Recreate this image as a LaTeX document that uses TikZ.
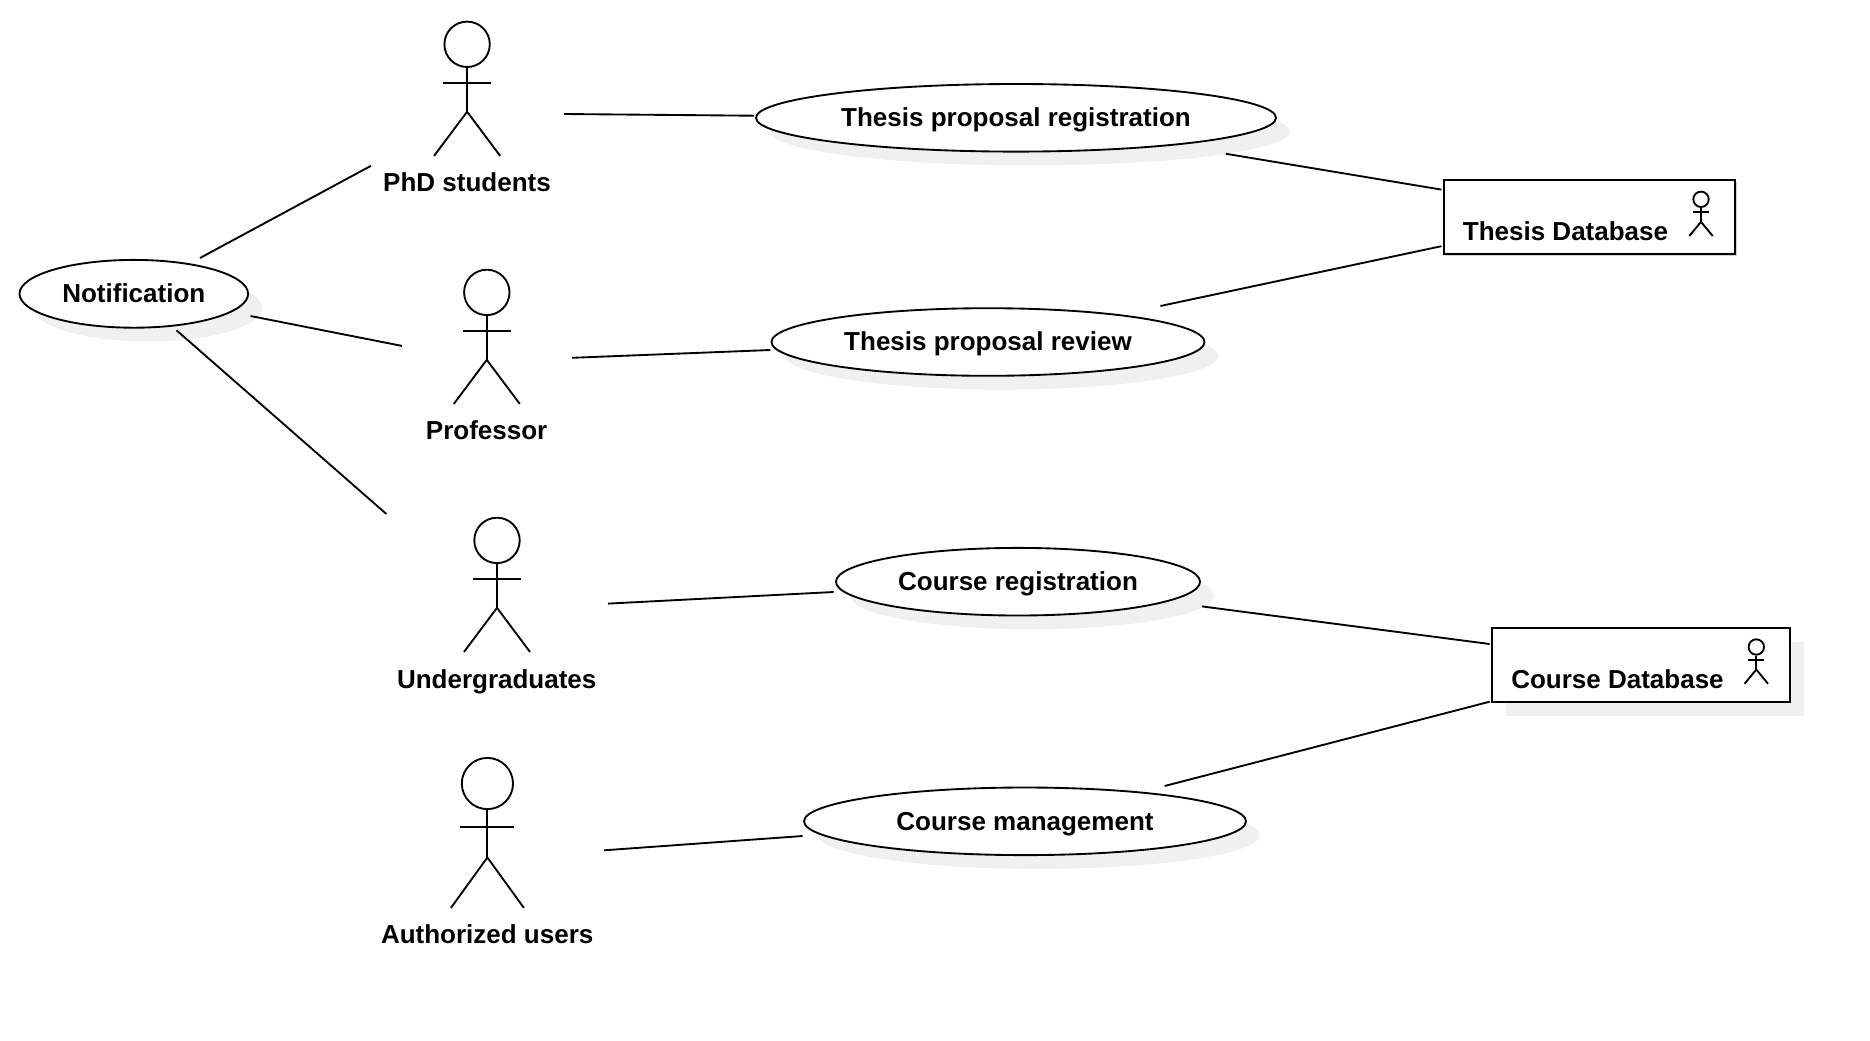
\documentclass[tikz,border=0pt]{standalone}
\usepackage{fontspec}
\setmainfont{Liberation Sans}
\definecolor{shadowc}{HTML}{F0F0F0}
\tikzset{
  x=0.75pt,y=-0.75pt,
  line width=1.4pt,
  line/.style={draw=black,line width=1.4pt},
  lbl/.style={font=\fontsize{19.5}{24}\selectfont\bfseries,text=black,inner sep=0pt},
  ucase/.style={ellipse,draw=black,fill=white,line width=1.4pt,inner sep=0pt},
  dbbox/.style={rectangle,draw=black,fill=white,line width=1.4pt,inner sep=0pt},
}
\usetikzlibrary{shapes.geometric}
% name, head x, head y, r, arm dy, arm half, hip dy, foot dy, foot half
\newcommand{\actorfig}[9]{%
  \node[circle,draw=black,line width=1.4pt,inner sep=0pt,minimum size={2*#4*0.75pt}] (#1) at (#2,#3) {};
  \draw[line] (#1.south) -- ++(0,#7-#4) coordinate (#1hip);
  \draw[line] ([shift={(-#6,#5)}]#1.center) -- ([shift={(#6,#5)}]#1.center);
  \draw[line] ([shift={(-#9,#8-#7)}]#1hip) -- (#1hip) -- ([shift={(#9,#8-#7)}]#1hip);
}
% name, cx, cy, rx, ry, text, text dy
\newcommand{\usecase}[7]{%
  \fill[shadowc] (#2+14,#3+13.8) ellipse [x radius=#4,y radius=#5];
  \node[ucase,minimum width={2*#4*0.75pt},minimum height={2*#5*0.75pt}] (#1) at (#2,#3) {};
  \node[lbl] (#1t) at (#2,#3+#7) {#6};
}
\begin{document}
\begin{tikzpicture}
\useasboundingbox (0,0) rectangle (1870,1040);
% use cases
\usecase{notif}{133.8}{293.8}{114.3}{33.9}{Notification}{-0.6}
\usecase{ereg}{1016}{117.8}{260}{33.8}{Thesis proposal registration}{2.4}
\usecase{erev}{988}{342}{216.5}{33.8}{Thesis proposal review}{1.4}
\usecase{creg}{1018}{581.7}{182}{33.8}{Course registration}{2.4}
\usecase{cman}{1025}{821.3}{221}{33.8}{Course management}{2.8}
% actors
\actorfig{phd}{467.1}{44.3}{22.7}{39}{24}{66.5}{110.6}{33}
\node[lbl] (phdl) at (467,182) {PhD students};
\actorfig{prof}{486.8}{292.4}{22.7}{39}{24}{66.5}{110.6}{33}
\node[lbl] (profl) at (486.6,430) {Professor};
\actorfig{und}{497}{540.4}{22.7}{39}{24}{66.5}{110.6}{33}
\node[lbl] (undl) at (496.7,681.5) {Undergraduates};
\actorfig{aut}{487.4}{783.5}{25.6}{43.3}{27}{73}{123.5}{36.5}
\node[lbl] (autl) at (487.2,934) {Authorized users};
% databases
\fill[shadowc!70!gray] (1445.5,181.5) rectangle (1736.5,255.5);
\node[dbbox,minimum width={291*0.75pt},minimum height={74*0.75pt}] (tdb) at (1589.2,217) {};
\node[lbl] (tdbl) at (1565.5,231) {Thesis Database};
\actorfig{tmini}{1701}{199.3}{7.7}{12.7}{8}{21.6}{35.8}{11.7}
\fill[shadowc] (1506,641.7) rectangle (1804,715.7);
\node[dbbox,minimum width={298.5*0.75pt},minimum height={73.7*0.75pt}] (cdb) at (1641,664.9) {};
\node[lbl] (cdbl) at (1617.5,679) {Course Database};
\actorfig{cmini}{1756.3}{647}{7.7}{12.7}{8}{21.6}{35.8}{11.7}
% connectors: all are drawn short of the shapes they join
\draw[line] ([shift={(66.2,-35.8)}]notif.center) -- ([shift={(-96.1,121.5)}]phd.center);
\draw[line] ([shift={(116.7,22.2)}]notif.center) -- ([shift={(-84.8,53.5)}]prof.center);
\draw[line] ([shift={(42.7,36.5)}]notif.center) -- ([shift={(-110.6,-26.4)}]und.center);
\draw[line] ([shift={(96.9,69.7)}]phd.center) -- ([shift={(-262,-2.1)}]ereg.center);
\draw[line] ([shift={(85.2,65.4)}]prof.center) -- ([shift={(-217.6,8)}]erev.center);
\draw[line] ([shift={(111,63.2)}]und.center) -- ([shift={(-184.4,10.3)}]creg.center);
\draw[line] ([shift={(116.6,66.8)}]aut.center) -- ([shift={(-222.4,14.7)}]cman.center);
\draw[line] ([shift={(210,36)}]ereg.center) -- ([shift={(-1.4,-27.4)}]tdb.west);
\draw[line] ([shift={(172.4,-36)}]erev.center) -- ([shift={(-1.4,29.2)}]tdb.west);
\draw[line] ([shift={(184,24.7)}]creg.center) -- ([shift={(-1.2,-20.9)}]cdb.west);
\draw[line] ([shift={(139.6,-35.3)}]cman.center) -- ([shift={(-1.2,36.8)}]cdb.west);
\end{tikzpicture}
\end{document}
